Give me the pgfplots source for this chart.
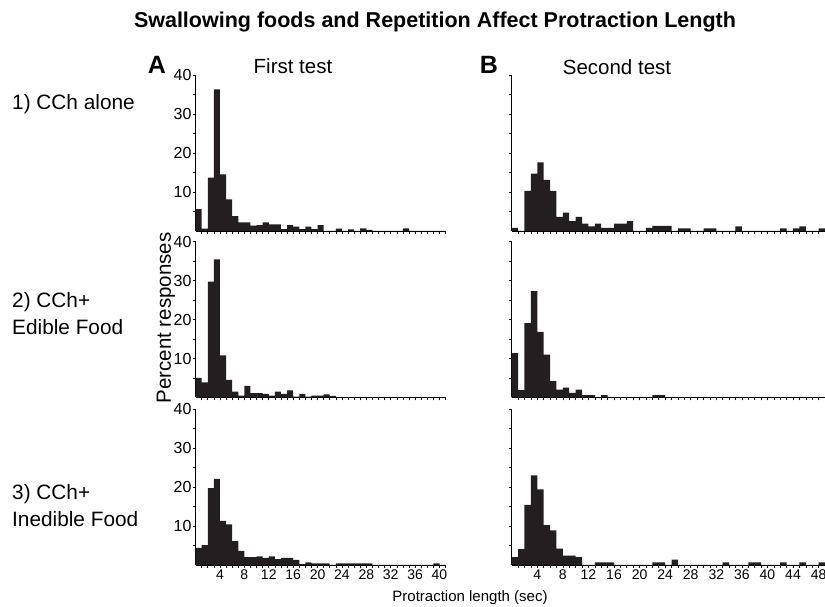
\documentclass[border=0pt]{standalone}
\usepackage{fontspec}
\setmainfont{Liberation Sans}
\usepackage{pgfplots}
\pgfplotsset{compat=1.18}
\definecolor{barc}{RGB}{35,31,32}
\pgfplotsset{
 panel/.style={scale only axis, height=156pt, ymin=0, ymax=40, xmin=0, anchor=south west,
  axis x line=bottom, axis y line=left, axis line style={-, line width=0.9pt, black},
  ytick={10,20,30,40}, minor ytick={5,15,25,35},
  tick align=outside, major tick length=3pt, minor tick length=3pt,
  every tick/.style={black, line width=0.6pt},
  /pgf/number format/assume math mode=true,
  yticklabel style={font=\fontsize{16}{16}\selectfont, inner sep=1pt},
  xticklabel style={font=\fontsize{14}{14}\selectfont, inner sep=2pt},
 },
 leftpanel/.style={panel, width=250pt, xmax=41, xtick={4,8,...,40}, minor xtick={1,...,41}},
 rightpanel/.style={panel, width=313.3pt, xmax=49, xtick={4,8,...,48}, minor xtick={1,...,49}, yticklabels={}},
 bars/.style={ybar interval, fill=barc, draw=none},
}
\begin{document}
\begin{tikzpicture}
\useasboundingbox (0,0) rectangle (825pt,607pt);
% Top left
\begin{axis}[leftpanel, at={(195.6pt,376pt)}, xticklabels={}]
\addplot[bars] coordinates {(0,5.6) (1,0.6) (2,13.7) (3,36.3) (4,14.5) (5,8.1) (6,3.8) (7,2.2) (8,2.2) (9,1.4) (10,1.5) (11,2.2) (12,1.7) (13,1.7) (14,0.5) (15,1.5) (16,1.1) (17,0.5) (18,1.1) (19,0.5) (20,1.5) (21,0) (22,0) (23,0.6) (24,0) (25,0.4) (26,0) (27,0.7) (28,0.3) (29,0) (30,0) (31,0) (32,0) (33,0) (34,0.7) (35,0) (36,0) (37,0) (38,0) (39,0) (40,0) (41,0)};
\end{axis}
% Middle left
\begin{axis}[leftpanel, at={(195.6pt,209.5pt)}, xticklabels={}]
\addplot[bars] coordinates {(0,5.0) (1,3.9) (2,29.7) (3,35.4) (4,10.8) (5,4.5) (6,1.5) (7,0.5) (8,3.0) (9,1.1) (10,1.1) (11,0.9) (12,0.5) (13,1.5) (14,0.9) (15,1.8) (16,0.2) (17,0.9) (18,0.2) (19,0.5) (20,0.5) (21,0.8) (22,0.4) (23,0) (24,0) (25,0) (26,0) (27,0) (28,0) (29,0) (30,0) (31,0) (32,0) (33,0) (34,0) (35,0) (36,0) (37,0) (38,0) (39,0) (40,0) (41,0)};
\end{axis}
% Bottom left
\begin{axis}[leftpanel, at={(195.6pt,42pt)}]
\addplot[bars] coordinates {(0,4.4) (1,5.1) (2,19.7) (3,22.1) (4,11.3) (5,10.4) (6,6.1) (7,3.6) (8,2.0) (9,2.0) (10,2.2) (11,1.8) (12,2.2) (13,1.5) (14,1.8) (15,1.8) (16,1.3) (17,0.2) (18,0.7) (19,0.4) (20,0.4) (21,0.4) (22,0) (23,0.4) (24,0.4) (25,0.4) (26,0.4) (27,0.4) (28,0.4) (29,0) (30,0) (31,0) (32,0) (33,0) (34,0) (35,0) (36,0) (37,0) (38,0) (39,0.4) (40,0) (41,0)};
\end{axis}
% Top right
\begin{axis}[rightpanel, at={(511.7pt,376pt)}, xticklabels={}]
\addplot[bars] coordinates {(0,0.8) (1,0) (2,10.3) (3,14.7) (4,17.6) (5,13.1) (6,10.3) (7,3.6) (8,4.7) (9,2.5) (10,3.6) (11,1.9) (12,1.2) (13,1.9) (14,0.8) (15,0.8) (16,1.9) (17,1.9) (18,2.5) (19,0) (20,0) (21,0.8) (22,1.3) (23,1.3) (24,1.3) (25,0) (26,0.7) (27,0.7) (28,0) (29,0) (30,0.7) (31,0.7) (32,0) (33,0) (34,0) (35,1.2) (36,0) (37,0) (38,0) (39,0) (40,0) (41,0) (42,0.7) (43,0) (44,0.7) (45,1.2) (46,0) (47,0) (48,0.7) (49,0)};
\end{axis}
% Middle right
\begin{axis}[rightpanel, at={(511.7pt,209.5pt)}, xticklabels={}]
\addplot[bars] coordinates {(0,11.4) (1,1.9) (2,19.1) (3,27.3) (4,16.8) (5,11.0) (6,4.2) (7,2.0) (8,2.5) (9,1.2) (10,2.0) (11,0.6) (12,0.6) (13,0) (14,0.6) (15,0) (16,0) (17,0) (18,0) (19,0) (20,0) (21,0) (22,0.6) (23,0.6) (24,0) (25,0) (26,0) (27,0) (28,0) (29,0) (30,0) (31,0) (32,0) (33,0) (34,0) (35,0) (36,0) (37,0) (38,0) (39,0) (40,0) (41,0) (42,0) (43,0) (44,0) (45,0) (46,0) (47,0) (48,0) (49,0)};
\end{axis}
% Bottom right
\begin{axis}[rightpanel, at={(511.7pt,42pt)}]
\addplot[bars] coordinates {(0,2.0) (1,4.1) (2,15.4) (3,23.0) (4,19.4) (5,10.2) (6,8.9) (7,4.2) (8,2.4) (9,2.4) (10,2.0) (11,0) (12,0) (13,0.7) (14,0.7) (15,0.7) (16,0) (17,0) (18,0) (19,0) (20,0) (21,0) (22,0.7) (23,0.7) (24,0) (25,1.4) (26,0) (27,0) (28,0) (29,0) (30,0) (31,0) (32,0) (33,0.7) (34,0) (35,0) (36,0) (37,0.7) (38,0.7) (39,0) (40,0) (41,0) (42,0.7) (43,0) (44,0) (45,0.7) (46,0) (47,0) (48,0.7) (49,0)};
\end{axis}
% Texts
\node[font=\bfseries\fontsize{21.5}{24}\selectfont] at (435pt,585pt) {Swallowing foods and Repetition Affect Protraction Length};
\node[font=\bfseries\fontsize{25}{28}\selectfont] at (157pt,542pt) {A};
\node[font=\bfseries\fontsize{25}{28}\selectfont] at (489pt,542pt) {B};
\node[font=\fontsize{20.5}{24}\selectfont] at (293pt,541pt) {First test};
\node[font=\fontsize{20.5}{24}\selectfont] at (617pt,540pt) {Second test};
\node[font=\fontsize{20.8}{24}\selectfont, anchor=west, inner sep=0pt] at (12pt,503pt) {1) CCh alone};
\node[font=\fontsize{20.8}{24}\selectfont, anchor=west, inner sep=0pt] at (12pt,305pt) {2) CCh+};
\node[font=\fontsize{20.8}{24}\selectfont, anchor=west, inner sep=0pt] at (12pt,280pt) {Edible Food};
\node[font=\fontsize{20.8}{24}\selectfont, anchor=west, inner sep=0pt] at (12pt,113pt) {3) CCh+};
\node[font=\fontsize{20.8}{24}\selectfont, anchor=west, inner sep=0pt] at (12pt,88pt) {Inedible Food};
\node[font=\fontsize{20.5}{24}\selectfont, rotate=90] at (166pt,289pt) {Percent responses};
\node[font=\fontsize{15}{18}\selectfont] at (470pt,9pt) {Protraction length (sec)};
\end{tikzpicture}
\end{document}
